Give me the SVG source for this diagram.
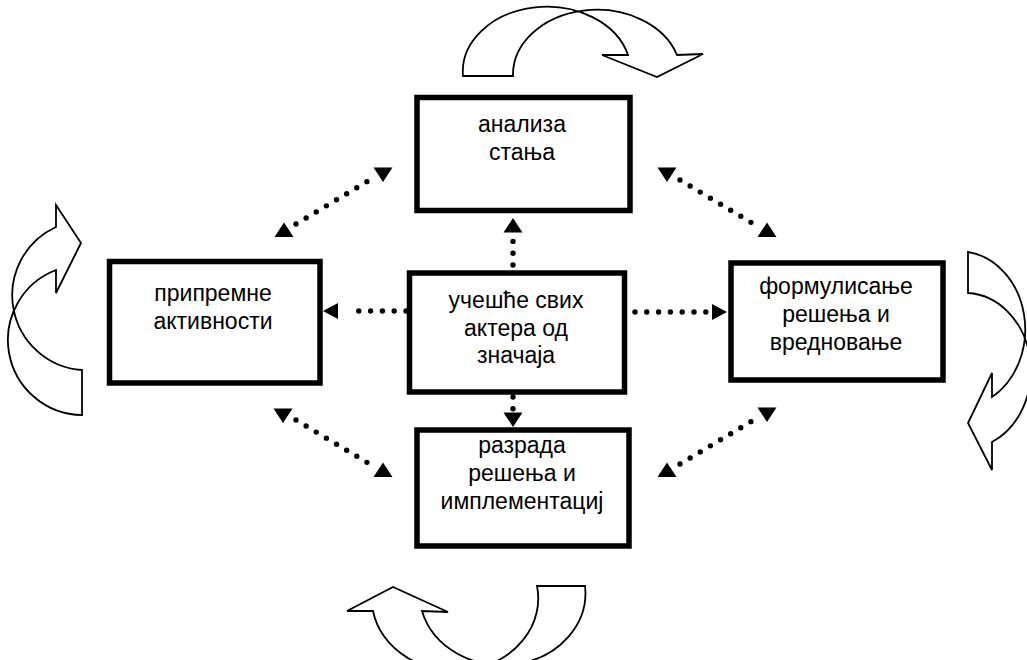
<svg xmlns="http://www.w3.org/2000/svg" xmlns:xlink="http://www.w3.org/1999/xlink" width="1027" height="660" viewBox="0 0 1027 660">
  <style>
    .box { fill: #ffffff; stroke: #000000; stroke-width: 5.5; }
    .label { font-family: "Liberation Sans", Arial, sans-serif; font-size: 23px; fill: #000000; text-anchor: middle; }
    .dots { fill: none; stroke: #000000; stroke-width: 5.4; stroke-linecap: round; stroke-dasharray: 0 11.8; }
    .head { fill: #000000; stroke: none; }
    .cycle { fill: #ffffff; stroke: #000000; stroke-width: 1.8; stroke-linejoin: miter; }
  </style>
  <defs>
    <!-- filled arrowheads, tip at the origin -->
    <path id="head-up" d="M0,0 L9.5,14.5 L-9.5,14.5 Z"/>
    <path id="head-down" d="M0,0 L-9.5,-14.5 L9.5,-14.5 Z"/>
    <path id="head-left" d="M0,0 L15,-8 L15,8 Z"/>
    <path id="head-right" d="M0,0 L-15,-8 L-15,8 Z"/>
  </defs>

  <rect width="1027" height="660" fill="#ffffff"/>

  <!-- curved cycle arrows around the outer boxes -->
  <g id="cycles">
    <path id="cycle-top" class="cycle" d="M463,76 A84,65 0 0 1 628,55 L602,55 L657,77 L703,54 L677,55 A84,65 0 0 0 513,76 Z"/>
    <path id="cycle-right" class="cycle" d="M968,252 A66,78 0 0 1 992,397 L992,373 L968,423 L992,470 L992,442 A66,78 0 0 0 968,293 Z"/>
    <path id="cycle-bottom" class="cycle" d="M585,586 A83,72 0 0 1 422,611 L448,612 L393,587 L347,611 L373,611 A83,72 0 0 0 537,586 Z"/>
    <path id="cycle-left" class="cycle" d="M82,415 A75,75 0 0 1 56,270 L56,293 L81,243 L56,205 L56,227 A75,75 0 0 0 82,370 Z"/>
  </g>

  <!-- dotted two-way and one-way links -->
  <g id="connectors">
    <!-- centre to the four boxes -->
    <line class="dots" x1="513" y1="265" x2="513" y2="241"/>
    <use href="#head-up" class="head" x="513" y="218"/>
    <line class="dots" x1="513" y1="397" x2="513" y2="409"/>
    <use href="#head-down" class="head" x="513" y="427"/>
    <line class="dots" x1="406" y1="311" x2="347" y2="311"/>
    <use href="#head-left" class="head" x="323" y="311"/>
    <line class="dots" x1="635" y1="312" x2="708" y2="312"/>
    <use href="#head-right" class="head" x="727" y="312"/>

    <!-- preparation <-> analysis -->
    <line class="dots" x1="296" y1="224" x2="368.5" y2="180.7"/>
    <use href="#head-up" class="head" x="284" y="222.5"/>
    <use href="#head-down" class="head" x="383" y="182"/>
    <!-- analysis <-> formulation -->
    <line class="dots" x1="680" y1="180" x2="752.5" y2="223.3"/>
    <use href="#head-down" class="head" x="667" y="182"/>
    <use href="#head-up" class="head" x="767" y="222.5"/>
    <!-- preparation <-> elaboration -->
    <line class="dots" x1="296" y1="420" x2="368.5" y2="463.3"/>
    <use href="#head-down" class="head" x="283" y="423"/>
    <use href="#head-up" class="head" x="383" y="462.5"/>
    <!-- formulation <-> elaboration -->
    <line class="dots" x1="680" y1="464" x2="752.5" y2="420.7"/>
    <use href="#head-up" class="head" x="667" y="462.5"/>
    <use href="#head-down" class="head" x="767" y="422"/>
  </g>

  <g id="node-analysis">
    <rect class="box" x="417" y="97.5" width="213" height="113"/>
    <text class="label" x="522" y="132">анализа</text>
    <text class="label" x="522" y="160">стања</text>
  </g>

  <g id="node-preparation">
    <rect class="box" x="109.5" y="261.5" width="210.5" height="121.5"/>
    <text class="label" x="213" y="301">припремне</text>
    <text class="label" x="213" y="329">активности</text>
  </g>

  <g id="node-participation">
    <rect class="box" x="409.5" y="273" width="215" height="119"/>
    <text class="label" x="516" y="308">учешће свих</text>
    <text class="label" x="516" y="335.5">актера од</text>
    <text class="label" x="516" y="363">значаја</text>
  </g>

  <g id="node-formulation">
    <rect class="box" x="731" y="263" width="212" height="117"/>
    <text class="label" x="836" y="294">формулисање</text>
    <text class="label" x="836" y="322">решења и</text>
    <text class="label" x="836" y="350">вредновање</text>
  </g>

  <g id="node-elaboration">
    <rect class="box" x="417" y="430" width="212" height="116"/>
    <text class="label" x="522" y="453">разрада</text>
    <text class="label" x="522" y="481">решења и</text>
    <text class="label" x="522" y="509">имплементациј</text>
  </g>
</svg>
